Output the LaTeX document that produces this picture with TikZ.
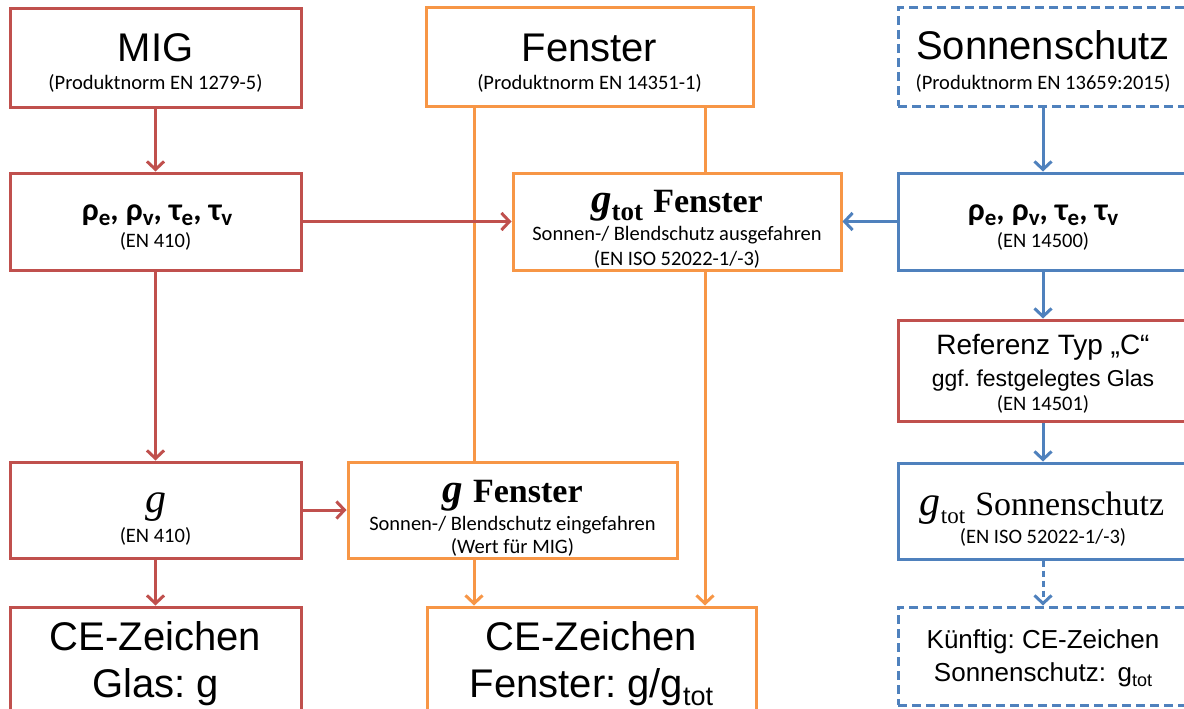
\documentclass[tikz,border=0pt]{standalone}
\usepackage{fontspec}
\setmainfont{Liberation Sans}
\newfontfamily\calfont{Carlito}
\newfontfamily\timesf{Liberation Serif}
\usetikzlibrary{arrows.meta}
\definecolor{cred}{HTML}{C0504D}
\definecolor{corange}{HTML}{F79646}
\definecolor{cblue}{HTML}{4F81BD}
\newcommand\setfs[1]{\fontsize{#1pt}{#1pt}\selectfont}
\frenchspacing
\tikzset{
  box/.style={draw, line width=3pt, fill=white, rectangle, inner sep=0pt},
  rbox/.style={box, draw=cred},
  obox/.style={box, draw=corange},
  bbox/.style={box, draw=cblue},
  dbox/.style={bbox, dash pattern=on 9pt off 5pt},
  con/.style={line width=3pt},
  arr/.style={con, -{Straight Barb[length=8pt,width=17pt]}},
  rarr/.style={arr, draw=cred},
  oarr/.style={arr, draw=corange},
  oline/.style={con, draw=corange},
  barr/.style={arr, draw=cblue},
  txt/.style={anchor=base, inner sep=0pt},
  big/.style={txt, font=\setfs{40}},
  small/.style={txt, font=\calfont\setfs{20.5}},
}
\begin{document}
\begin{tikzpicture}[x=1pt, y=-1pt]
\useasboundingbox (0,0) rectangle (1184,709);
\fill[white] (0,0) rectangle (1184,709);
\clip (0,0) rectangle (1184,709);
% boxes
\node[rbox, minimum width=291pt, minimum height=98pt] (mig) at (155.5,58) {};
\node[rbox, minimum width=291pt, minimum height=97pt] (rho1) at (155.5,221.5) {};
\node[rbox, minimum width=291pt, minimum height=96pt] (g1) at (155.5,510) {};
\node[rbox, minimum width=291pt, minimum height=153pt] (ce1) at (155.5,683.5) {};
\node[obox, minimum width=327pt, minimum height=98pt] (fen) at (589.5,57) {};
\node[obox, minimum width=328pt, minimum height=97pt] (gtotf) at (677,221.5) {};
\node[obox, minimum width=329pt, minimum height=96pt] (gf) at (512.5,510) {};
\node[obox, minimum width=329pt, minimum height=153pt] (ce2) at (591.5,683.5) {};
\node[dbox, minimum width=290pt, minimum height=98pt] (son) at (1043,57) {};
\node[bbox, minimum width=290pt, minimum height=97pt] (rho2) at (1043,221.5) {};
\node[rbox, minimum width=290pt, minimum height=101pt] (ref) at (1043,370.5) {};
\node[bbox, minimum width=290pt, minimum height=96pt] (gtots) at (1043,511) {};
\node[dbox, minimum width=290pt, minimum height=98pt] (kue) at (1043,656) {};
% helper coordinates for orange verticals
\coordinate (fa) at (474,0);
\coordinate (fb) at (705,0);
% connectors
\draw[oline] (fen.south -| fa) -- (gf.north -| fa);
\draw[oline] (fen.south -| fb) -- (gtotf.north -| fb);
\draw[oarr] (gtotf.south -| fb) -- (ce2.north -| fb);
\draw[oarr] (gf.south -| fa) -- (ce2.north -| fa);
\draw[rarr] (mig.south) -- (rho1.north);
\draw[rarr] (rho1.south) -- (g1.north);
\draw[rarr] (g1.south) -- (ce1.north);
\draw[rarr] (rho1.east) -- (gtotf.west);
\draw[rarr] (g1.east) -- (gf.west);
\draw[barr] (son.south) -- (rho2.north);
\draw[barr] (rho2.west) -- (gtotf.east);
\draw[barr] (rho2.south) -- (ref.north);
\draw[barr] (ref.south) -- (gtots.north);
\draw[barr, dash pattern=on 6pt off 4pt] (gtots.south) -- (kue.north);
% texts
\node[big] (t1) at (155.5,62) {MIG};
\node[small] (t2) at (155.5,90) {(Produktnorm EN 1279-5)};
\node[big] (t3) at (589.5,62) {Fenster};
\node[small] (t4) at (589.5,90) {(Produktnorm EN 14351-1)};
\node[big] (t5) at (1043,60) {Sonnenschutz};
\node[small] (t6) at (1043,89) {(Produktnorm EN 13659:2015)};
\node[txt, font=\calfont\bfseries\setfs{32}] (t7) at (157,220) {ρ\raisebox{-5pt}{\setfs{23}e}, ρ\raisebox{-5pt}{\setfs{23}v}, τ\raisebox{-5pt}{\setfs{23}e}, τ\raisebox{-5pt}{\setfs{23}v}};
\node[small] (t8) at (155.5,247) {(EN 410)};
\node[txt] (t9) at (677,212) {{\timesf\bfseries\itshape\setfs{41}g}{\timesf\bfseries\setfs{27}\raisebox{-8pt}{tot}}\,{\timesf\bfseries\setfs{34} Fenster}};
\node[small] (t10) at (677,240) {Sonnen-/ Blendschutz ausgefahren};
\node[small] (t11) at (677,265) {(EN ISO 52022-1/-3)};
\node[txt, font=\calfont\bfseries\setfs{32}] (t12) at (1043,220) {ρ\raisebox{-5pt}{\setfs{23}e}, ρ\raisebox{-5pt}{\setfs{23}v}, τ\raisebox{-5pt}{\setfs{23}e}, τ\raisebox{-5pt}{\setfs{23}v}};
\node[small] (t13) at (1043,247) {(EN 14500)};
\node[txt, font=\setfs{28}] (t14) at (1043,354) {Referenz Typ „C“};
\node[txt, font=\setfs{23}] (t15) at (1043,386) {ggf. festgelegtes Glas};
\node[small] (t16) at (1043,410) {(EN 14501)};
\node[txt] (t17) at (1042,515) {{\timesf\itshape\setfs{42}g}{\timesf\setfs{23}\raisebox{-8pt}{tot}}\,{\timesf\setfs{34} Sonnenschutz}};
\node[small] (t18) at (1043,543) {(EN ISO 52022-1/-3)};
\node[txt, font=\setfs{26}] (t19) at (1043,648) {Künftig: CE-Zeichen};
\node[txt, font=\setfs{26}] (t20) at (1043,681) {Sonnenschutz:\, g\raisebox{-5pt}{\setfs{18}tot}};
\node[txt, font=\timesf\itshape\setfs{42}] (t21) at (155.5,512) {g};
\node[small] (t22) at (155.5,542) {(EN 410)};
\node[txt] (t23) at (512.5,502) {{\timesf\bfseries\itshape\setfs{41}g}\,{\timesf\bfseries\setfs{34} Fenster}};
\node[small] (t24) at (512.5,530) {Sonnen-/ Blendschutz eingefahren};
\node[small] (t25) at (512.5,553) {(Wert für MIG)};
\node[big] (t26) at (155.5,650) {CE-Zeichen};
\node[big] (t27) at (155.5,697) {Glas: g};
\node[big] (t28) at (591.5,650) {CE-Zeichen};
\node[big] (t29) at (591.5,697) {Fenster: g/g\raisebox{-8pt}{\setfs{27}tot}};
\end{tikzpicture}
\end{document}
